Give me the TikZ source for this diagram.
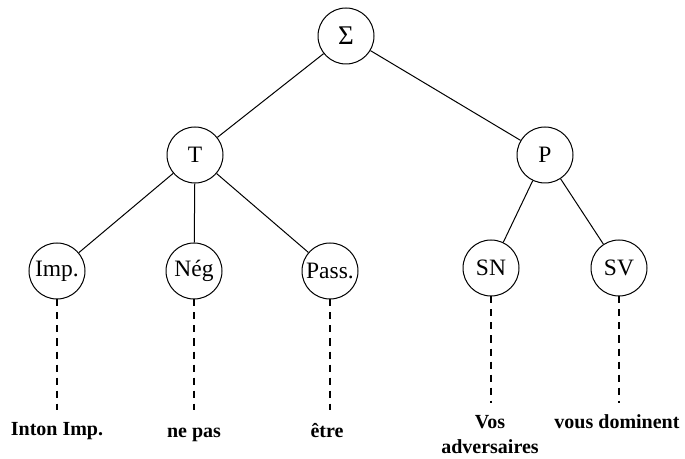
\documentclass[tikz,border=0pt]{standalone}
\usepackage{fontspec}
\setmainfont{Liberation Serif}
\begin{document}
\begin{tikzpicture}[x=1pt,y=1pt,
  tn/.style={circle,draw,line width=1pt,minimum size=56pt,inner sep=0pt,
             font=\fontsize{23.5}{26}\selectfont},
  edge/.style={line width=1pt},
  lead/.style={line width=1.4pt,dash pattern=on 7pt off 6pt},
  leaf/.style={anchor=base,inner sep=0pt,font=\bfseries\fontsize{20}{22}\selectfont}]
\useasboundingbox (0,0) rectangle (685,458);

% tree nodes
\node[tn,font=\fontsize{27}{30}\selectfont] (S) at (346,422) {Σ};
\node[tn] (T)    at (195,303) {T};
\node[tn] (P)    at (545,303) {P};
\node[tn] (Imp)  at (57,187)  {Imp.};
\node[tn] (Neg)  at (194,187) {Nég};
\node[tn] (Pass) at (330,187) {Pass.};
\node[tn] (SN)   at (491,190) {SN};
\node[tn] (SV)   at (619,190) {SV};

% branches
\draw[edge] (S) -- (T);
\draw[edge] (S) -- (P);
\draw[edge] (T) -- (Imp);
\draw[edge] (T) -- (Neg);
\draw[edge] (T) -- (Pass);
\draw[edge] (P) -- (SN);
\draw[edge] (P) -- (SV);

% ends of the dashed leads
\coordinate (eImp)  at (57,48);
\coordinate (eNeg)  at (194,48);
\coordinate (ePass) at (330,48);
\coordinate (eSN)   at (491,55);
\coordinate (eSV)   at (619,55);

\draw[lead] (Imp.south)  -- (eImp);
\draw[lead] (Neg.south)  -- (eNeg);
\draw[lead] (Pass.south) -- (ePass);
\draw[lead] (SN.south)   -- (eSN);
\draw[lead] (SV.south)   -- (eSV);

% terminal strings
\node[leaf] (lImp)  at (57,23)  {Inton Imp.};
\node[leaf] (lNeg)  at (194,21) {ne pas};
\node[leaf] (lPass) at (327,21) {être};
\node[leaf] (lSNa)  at (490,30) {Vos};
\node[leaf] (lSNb)  at (490,5)  {adversaires};
\node[leaf] (lSV)   at (617,30) {vous dominent};
\end{tikzpicture}
\end{document}
